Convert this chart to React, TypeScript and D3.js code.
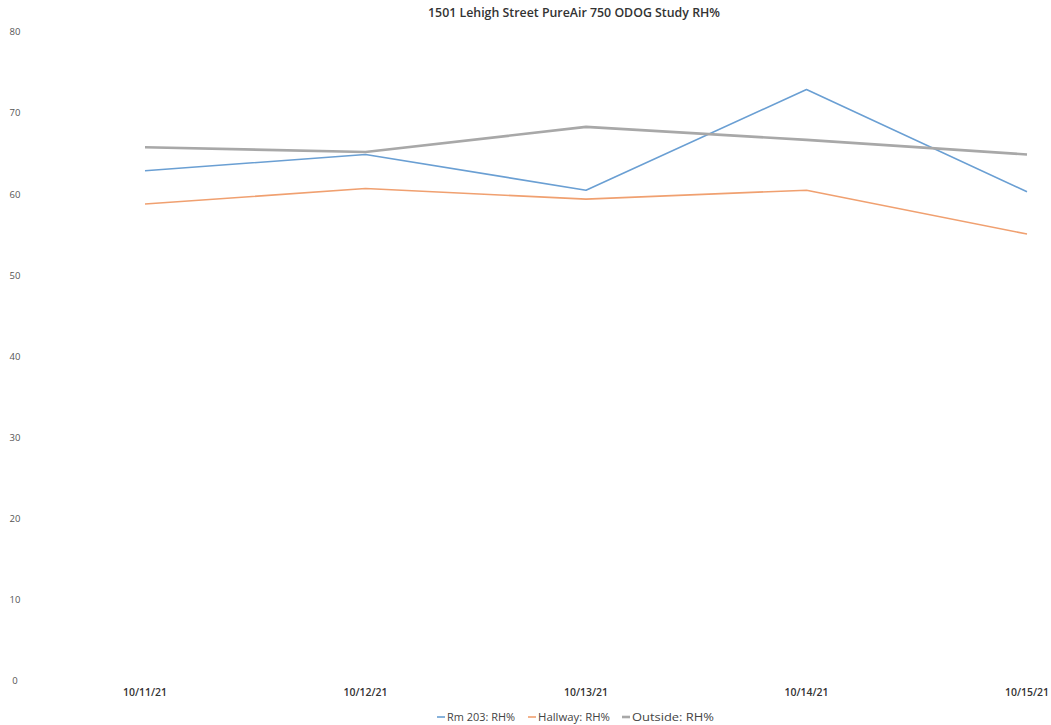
import React from "react";
import * as d3 from "d3";

const dates = ["10/11/21", "10/12/21", "10/13/21", "10/14/21", "10/15/21"];
const rm203 = [62.9, 64.9, 60.5, 72.9, 60.3];
const hallway = [58.8, 60.7, 59.4, 60.5, 55.1];
const outside = [65.8, 65.2, 68.3, 66.7, 64.9];
const yTicks = [0, 10, 20, 30, 40, 50, 60, 70, 80];

const seriesList = [
  { name: "Rm 203: RH%", values: rm203, color: "#6a9fd3", width: 1.6, len: 68 },
  { name: "Hallway: RH%", values: hallway, color: "#f0a070", width: 1.6, len: 72 },
  { name: "Outside: RH%", values: outside, color: "#a8a8a8", width: 2.6, len: 82 },
];

export default function App() {
  const W = 1051, H = 725;
  const x = d3.scalePoint<string>().domain(dates).range([145, 1027]);
  const y = d3.scaleLinear().domain([0, 80]).range([681, 32]);
  const line = (vals: number[]) =>
    d3.line<number>().x((_, i) => x(dates[i]) as number).y((v) => y(v))(vals) || "";
  const font = "Open Sans, sans-serif";
  const legendX = [437, 528, 622];
  return (
    <svg width={W} height={H} style={{ position: "absolute", left: 0, top: 0, background: "#fff" }}>
      <text x={574} y={17} textAnchor="middle" fontFamily={font} fontSize={12} fontWeight={600} fill="#333" textLength={292} lengthAdjust="spacingAndGlyphs">
        1501 Lehigh Street PureAir 750 ODOG Study RH%
      </text>
      {yTicks.map((t) => (
        <text key={t} x={15} y={y(t)} dy="0.35em" textAnchor="middle" fontFamily={font} fontSize={9.5} fill="#555">
          {t}
        </text>
      ))}
      {dates.map((d) => (
        <text key={d} x={x(d) as number} y={696} textAnchor="middle" fontFamily={font} fontSize={10} fontWeight={600} fill="#333" textLength={44} lengthAdjust="spacingAndGlyphs">
          {d}
        </text>
      ))}
      {seriesList.map((s) => (
        <path key={s.name} d={line(s.values)} fill="none" stroke={s.color} strokeWidth={s.width} strokeLinejoin="round" />
      ))}
      {seriesList.map((s, i) => (
        <g key={s.name} transform={`translate(${legendX[i]},717)`}>
          <line x1={0} x2={8} y1={0} y2={0} stroke={s.color} strokeWidth={s.width} />
          <text x={10} y={0} dy="0.35em" fontFamily={font} fontSize={10} fill="#444" textLength={s.len} lengthAdjust="spacingAndGlyphs">
            {s.name}
          </text>
        </g>
      ))}
    </svg>
  );
}
